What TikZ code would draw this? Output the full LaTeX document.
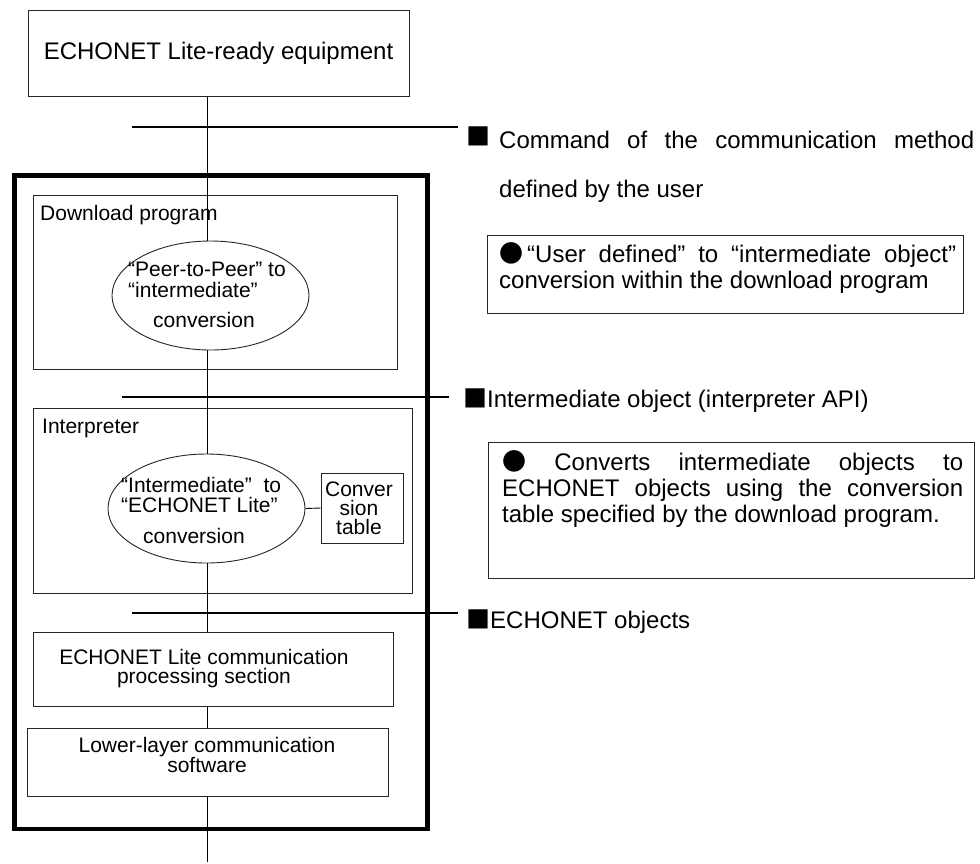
\documentclass[tikz,border=0pt]{standalone}
\usepackage{fontspec}
\setmainfont{Liberation Sans}
\newfontfamily\cjk{Noto Sans CJK JP}
\usetikzlibrary{shapes.geometric}
\begin{document}
\begin{tikzpicture}[x=1pt,y=-1pt,
  box/.style={draw=black!85, line width=0.9pt, inner sep=0pt, fill=white},
  frame/.style={draw=black!85, line width=0.9pt, inner sep=0pt},
  oval/.style={draw=black!85, line width=0.9pt, ellipse, inner sep=0pt, fill=white, minimum width=197pt, minimum height=109pt},
  txt/.style={inner sep=0pt, font=\fontsize{21}{21}\selectfont},
  rtxt/.style={inner sep=0pt, font=\fontsize{24}{26}\selectfont},
  conn/.style={line width=0.9pt},
  bus/.style={line width=2pt}
]
\useasboundingbox (0,0) rectangle (980,863);
\fill[white] (0,0) rectangle (980,863);

% outer thick frame
\node[draw, line width=4.5pt, inner sep=0pt, minimum width=413pt, minimum height=653.5pt] (outer) at (221,502.25) {};

% top equipment box
\node[box, minimum width=381pt, minimum height=86pt, font=\fontsize{24}{24}\selectfont] (equip) at (218.5,53.5) {ECHONET Lite-ready equipment};

% download program
\node[frame, minimum width=364pt, minimum height=174pt] (dlbox) at (215,282) {};
\node[txt, anchor=base west] (dltxt) at (40,220) {Download program};

% interpreter
\node[frame, minimum width=379pt, minimum height=185pt] (inbox) at (222.5,500.5) {};
\node[txt, anchor=base west] (intxt) at (42,433) {Interpreter};

% vertical line reference
\coordinate (vx) at (207.5,0);
\coordinate (vend) at (207.5,862);

% ellipses
\node[oval] (e1) at (210.5,295.5) {};
\node[oval] (e2) at (206.5,508.5) {};

\draw[conn] (equip.south -| vx) -- (e1.north -| vx);
\draw[conn] (e1.south -| vx) -- (e2.north -| vx);

\node[txt, align=left, anchor=north west] (e1txt) at (128,262) {“Peer-to-Peer” to\\“intermediate”\\[9pt]\hspace*{25pt}conversion};
\node[txt, align=left, anchor=north west, font=\fontsize{21}{20}\selectfont] (e2txt) at (121,477) {“Intermediate”\ \ to\\“ECHONET Lite”\\[11pt]\hspace*{22pt}conversion};

% conversion table
\node[box, minimum width=82pt, minimum height=70pt] (ctab) at (362,508) {};
\node[inner sep=0pt, align=center, font=\fontsize{21}{19}\selectfont] (ctabtxt) at (359,508) {Conver\\sion\\table};
\draw[conn] (e2.east) -- (ctab.west);

% communication boxes
\node[box, minimum width=360pt, minimum height=74pt] (comm) at (213,669) {};
\node[txt, align=center, font=\fontsize{21}{19}\selectfont] (commtxt) at (204,669) {ECHONET Lite communication\\processing section};
\node[box, minimum width=361pt, minimum height=68pt] (lower) at (207.5,762) {};
\node[txt, align=center, font=\fontsize{21}{19}\selectfont] (lowertxt) at (207,755) {Lower-layer communication\\software};

\draw[conn] (e2.south -| vx) -- (comm.north -| vx);
\draw[conn] (comm.south -| vx) -- (lower.north -| vx);
\draw[conn] (lower.south -| vx) -- (vend);

% bus lines
\coordinate (b1a) at (132,127); \coordinate (b1b) at (458,127);
\coordinate (b2a) at (122,397); \coordinate (b2b) at (449,397);
\coordinate (b3a) at (132,613); \coordinate (b3b) at (458,613);
\draw[bus] (b1a) -- (b1b);
\draw[bus] (b2a) -- (b2b);
\draw[bus] (b3a) -- (b3b);

% right-hand labels
\node[inner sep=0pt, anchor=base west, text width=508pt, align=justify, font=\fontsize{24}{49}\selectfont] (cmd) at (466,148) {\raisebox{3pt}{\cjk ■}\hspace{9pt}Command of the communication method\linebreak\hspace*{33pt}defined by the user};
\node[rtxt, anchor=base west] (inter) at (463,407) {{\cjk ■}Intermediate object (interpreter API)};
\node[rtxt, anchor=base west] (eobj) at (466,628) {{\cjk ■}ECHONET objects};

% note boxes
\node[frame, minimum width=476pt, minimum height=78pt] (note1) at (725,274) {};
\node[rtxt, anchor=base west, text width=457pt, align=justify] (note1txt) at (499,262) {{\cjk ●}\hspace{4pt}“User defined” to “intermediate object”\linebreak conversion within the download program};
\node[frame, minimum width=486pt, minimum height=136pt] (note2) at (731,510) {};
\node[rtxt, anchor=base west, text width=461pt, align=justify] (note2txt) at (502,470) {{\cjk ●} Converts intermediate objects to\linebreak ECHONET objects using the conversion\linebreak table specified by the download program.};
\end{tikzpicture}
\end{document}
